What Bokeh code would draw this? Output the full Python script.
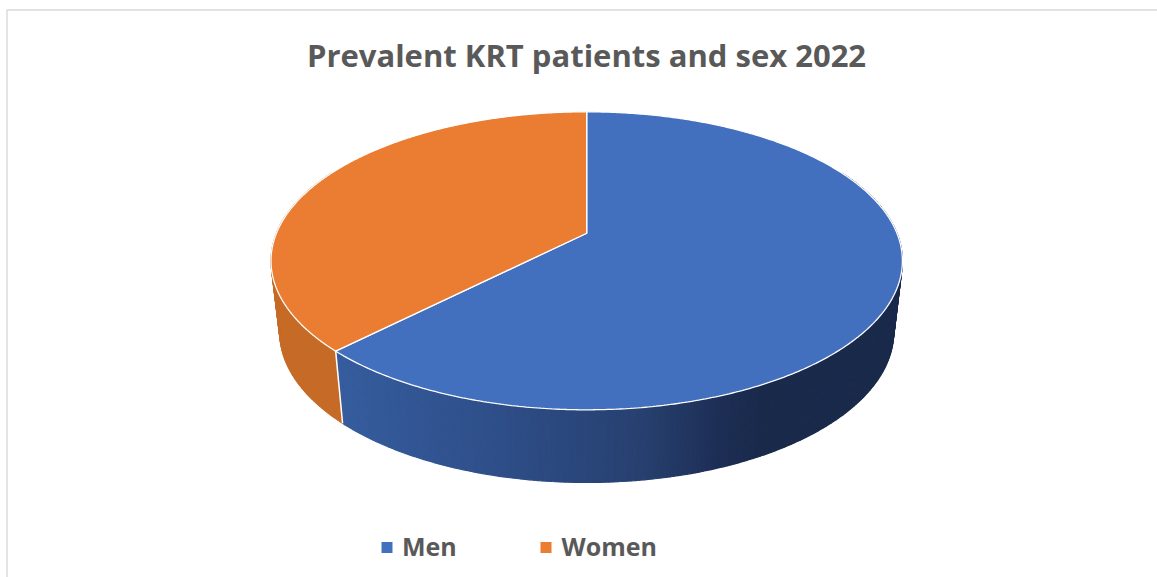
import numpy as np
from bokeh.core.properties import value
from bokeh.embed import file_html
from bokeh.models import Range1d
from bokeh.plotting import figure
from bokeh.resources import INLINE

# data
categories = ["Men", "Women"]
shares = [62.4, 37.6]
title_text = "Prevalent KRT patients and sex 2022"

# styles / layout (coordinates are page pixels)
top_colors = ["#4270BF", "#EA7D31"]
TEXT = "#595959"
W, H = 1157, 577
CX = 586.2
PERSP = 0.185
TOP = dict(rx=315.7, ry=149, cy=260.3)
BOT = dict(rx=307, ry=150.5, cy=331.5)
side_stops = {
    0: ([335, 500, 640, 720, 760], ["#365D9F", "#2E4E88", "#274070", "#1D2E55", "#1A2A4B"]),
    1: ([271, 345], ["#C66B27", "#C66B27"]),
}


def hex2rgb(h):
    return np.array([int(h[i:i + 2], 16) for i in (1, 3, 5)], float)


def grad(x, stops):
    xs, cols = stops
    rgb = np.array([hex2rgb(c) for c in cols])
    v = [np.interp(x, xs, rgb[:, k]) for k in range(3)]
    return "#%02x%02x%02x" % tuple(int(round(c)) for c in v)


def rim(t, level):
    """t: clockwise angle from the back of the pie; perspective projection of a circle."""
    X, Y = np.sin(t), np.cos(t)
    s = np.sqrt(1 - PERSP ** 2)
    d = 1 + PERSP * Y
    apex = level["cy"] - PERSP * level["ry"]
    return CX + level["rx"] * s * X / d, apex - level["ry"] * s ** 2 * Y / d


def apex_y(level):
    return level["cy"] - PERSP * level["ry"]


p = figure(width=W, height=H, output_backend="svg", toolbar_location=None,
           x_range=Range1d(0, W), y_range=Range1d(H, 0), min_border=0)
p.axis.visible = False
p.grid.visible = False
p.outline_line_color = None
p.background_fill_color = "white"
p.border_fill_color = "white"

# chart frame
p.line([6.5, 6.5, W], [H, 9.5, 9.5], line_color="#D9D9D9", line_width=1.4)

# slice angles from the values
fr = np.cumsum([0] + shares) / sum(shares) * 2 * np.pi

# side wall, drawn as strips
for i in range(len(shares)):
    a0, a1 = fr[i], fr[i + 1]
    ts = np.linspace(a0, a1, int((a1 - a0) / 0.012) + 2)
    for t0, t1 in zip(ts[:-1], ts[1:]):
        if np.cos(t0) > 0.45 and np.cos(t1) > 0.45:
            continue
        xt, yt = rim(np.array([t0, t1]), TOP)
        xb, yb = rim(np.array([t1, t0]), BOT)
        xs = list(xt) + list(xb)
        ys = list(yt) + list(yb)
        c = grad(np.mean(xs), side_stops[i])
        p.patch(xs, ys, fill_color=c, line_color=c, line_width=1.2)

# white seam on the wall between the slices
for a in fr[1:-1]:
    x0, y0 = rim(np.array([a]), TOP)
    x1, y1 = rim(np.array([a]), BOT)
    p.line([x0[0], x1[0]], [y0[0], y1[0]], line_color="white", line_width=1.5)

# top face
for i in range(len(shares)):
    ts = np.linspace(fr[i], fr[i + 1], 400)
    x, y = rim(ts, TOP)
    p.patch([CX] + list(x), [apex_y(TOP)] + list(y), fill_color=top_colors[i],
            line_color="white", line_width=1.3)

# title and legend
p.text([586], [54], text=[title_text], text_font=value("Open Sans"), text_font_style="bold",
       text_font_size="31px", text_color=TEXT, text_align="center", text_baseline="middle")
legend_sq_x = [386.5, 545.5]
legend_tx_x = [401.5, 561]
p.scatter(legend_sq_x, [547, 547], marker="square", size=11, fill_color=top_colors, line_color=None)
p.text(legend_tx_x, [545.5, 545.5], text=categories, text_font=value("Open Sans"), text_font_style="bold",
       text_font_size="25px", text_color=TEXT, text_align="left", text_baseline="middle")

open("out.html", "w").write(file_html(p, INLINE))
